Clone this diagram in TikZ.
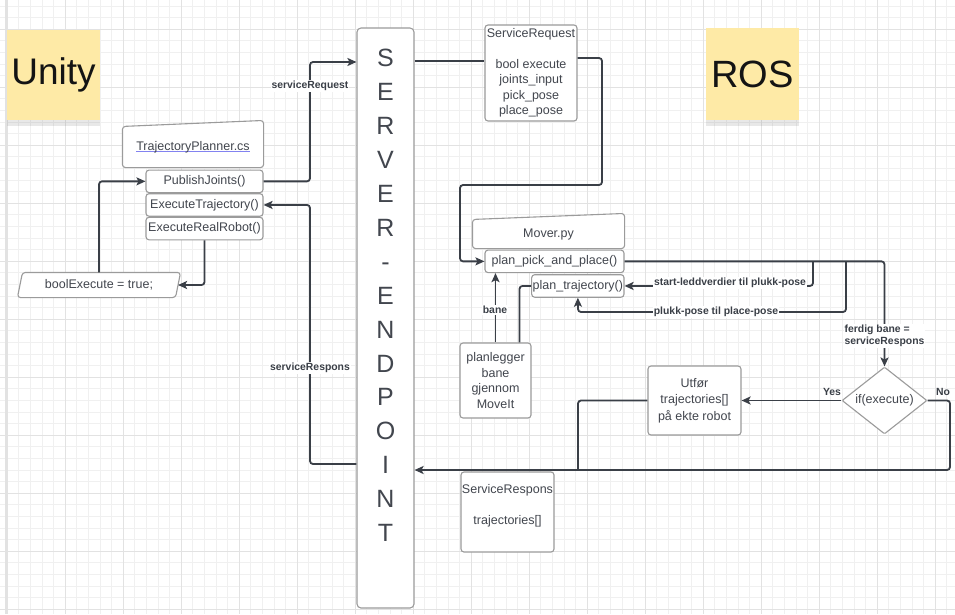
\documentclass[tikz,border=0pt]{standalone}
\usepackage{fontspec}
\setmainfont{Liberation Sans}
\usetikzlibrary{positioning, arrows.meta, shapes.geometric, shadows, backgrounds}
\definecolor{ink}{RGB}{58,63,71}
\definecolor{txtgrey}{RGB}{66,70,78}
\definecolor{boxgrey}{RGB}{155,155,155}
\definecolor{stickyyellow}{RGB}{254,234,166}
\definecolor{gridmin}{RGB}{240,240,240}
\definecolor{gridmaj}{RGB}{226,226,226}
\definecolor{ulblue}{RGB}{130,130,240}
\newcommand{\ulname}[1]{{\setbox0\hbox{#1}\rlap{\color{ulblue}\rule[-1.8pt]{\wd0}{0.9pt}}\box0}}

\begin{document}
\begin{tikzpicture}[x=1pt,y=-1pt,
    box/.style={draw=boxgrey, line width=1.1pt, fill=white, rounded corners=3pt, text=txtgrey,
      inner sep=1pt, align=center, font=\fontsize{12.5}{15.5}\selectfont},
    method/.style={box, minimum height=22.5pt},
    outline/.style={draw=boxgrey, line width=1.1pt, fill=white, rounded corners=3pt},
    sticky/.style={fill=stickyyellow, inner sep=0pt, text=black!92,
      drop shadow={shadow xshift=0pt, shadow yshift=-6pt, opacity=0.18}},
    conn/.style={draw=ink, line width=1.8pt, rounded corners=3pt, -{Stealth[length=9pt,width=8pt,inset=2pt]}},
    wire/.style={draw=ink, line width=1.8pt, rounded corners=3pt},
    lbl/.style={fill=white, text=ink, inner sep=1pt, align=left, font=\bfseries\fontsize{10.4}{12}\selectfont}]
  \useasboundingbox (0,0) rectangle (955,614);
  \clip (0,0) rectangle (955,614);
  \begin{scope}[on background layer]
    \fill[white] (0,0) rectangle (955,614);
    \foreach \gx in {0,...,82} \draw[gridmin] ({7+11.6*\gx},0) -- ++(0,614);
    \foreach \gy in {0,...,52} \draw[gridmin] (0,{5.8+11.6*\gy}) -- ++(955,0);
    \foreach \gx in {0,...,16} \draw[gridmaj] ({7+58*\gx},0) -- ++(0,614);
    \foreach \gy in {0,...,10} \draw[gridmaj] (0,{29+58*\gy}) -- ++(955,0);
    \draw[gridmaj, line width=2pt] (6,0) -- (6,614);
  \end{scope}

  \node[sticky, minimum width=93pt, minimum height=90pt, font=\fontsize{37}{40}\selectfont] (unity) at (53.5,75) {Unity};
  \node[sticky, minimum width=93pt, minimum height=92pt, font=\fontsize{38}{40}\selectfont] (ros) at (752.5,74) {ROS};

  \node[box, draw=none, fill=none, minimum width=140pt, minimum height=40pt] (tp) at (193,147) {\ulname{TrajectoryPlanner.cs}};
  \node[method, minimum width=117pt] (pub) [below left=2pt and 0pt of tp.south east] {PublishJoints()};
  \node[method, minimum width=117pt] (exetr) [below=0pt of pub] {ExecuteTrajectory()};
  \node[method, minimum width=117pt] (exereal) [below=0pt of exetr] {ExecuteRealRobot()};
  \node[box, draw=none, fill=none, minimum width=157pt, minimum height=24pt] (bex) at (99,285) {boolExecute = true;};

  \node[box, minimum width=57pt, minimum height=580pt, rounded corners=4pt] (srv) at (385.5,318) {};
  \node[text=txtgrey, align=center, inner sep=0pt, font=\fontsize{25}{33.9}\selectfont] (srvname) at ([yshift=22.5pt]srv.center)
    {S\\E\\R\\V\\E\\R\\-\\E\\N\\D\\P\\O\\I\\N\\T};

  \node[box, minimum width=92pt, minimum height=96pt] (sreq) at (531,73)
    {ServiceRequest\\[15.5pt]bool execute\\joints\_input\\pick\_pose\\place\_pose};
  \node[box, draw=none, fill=none, minimum width=151pt, minimum height=28pt] (mover) at (548.5,234) {Mover.py};
  \node[method, minimum width=139pt] (ppp) [below left=1pt and 0pt of mover.south east] {plan\_pick\_and\_place()};
  \node[method, minimum width=92pt] (ptraj) [below left=1pt and 0pt of ppp.south east] {plan\_trajectory()};
  \node[box, minimum width=71pt, minimum height=75pt] (plan) at (495.5,380.5) {planlegger\\bane\\gjennom\\MoveIt};
  \node[box, minimum width=93pt, minimum height=69pt, font=\fontsize{12.5}{16.5}\selectfont] (utf) at (694.5,400.5)
    {Utfør\\trajectories[]\\på ekte robot};
  \node[box, diamond, aspect=1.27, inner sep=0pt, rounded corners=1pt, minimum width=85pt, minimum height=67pt] (dia) at (884.5,400.5) {if(execute)};
  \node[box, minimum width=93pt, minimum height=80pt] (sresp) at (507.5,512) {ServiceRespons\\[16pt]trajectories[]\\\mbox{}};

  \begin{scope}[on background layer]
    \path[outline] (tp.south west) -- (tp.north west) -- ([yshift=6pt]tp.north east) -- (tp.south east) -- cycle;
    \path[outline] (mover.south west) -- (mover.north west) -- ([yshift=6pt]mover.north east) -- (mover.south east) -- cycle;
    \path[outline] ([xshift=-2.5pt]bex.south west) -- ([xshift=2.5pt]bex.north west)
      -- ([xshift=2.5pt]bex.north east) -- ([xshift=-2.5pt]bex.south east) -- cycle;
  \end{scope}

  \coordinate (reqturn) at (310,62);
  \coordinate (respturn) at (310,464);
  \coordinate (reqin) at (440,61);
  \coordinate (reqout) at (602,58);
  \coordinate (startsplit) at (813,261);
  \coordinate (plukksplit) at (846,261);
  \coordinate (noturn) at (950,470);
  \coordinate (yesjoin) at (578,470);

  \draw[conn] (pub.east) -| (reqturn) -- (reqturn -| srv.west);
  \draw[conn] (respturn -| srv.west) -- (respturn) |- (exetr.east);
  \draw[conn] (exereal.south) |- (bex.east);
  \draw[conn] (bex.north) |- (pub.west);
  \draw[wire] (reqin -| srv.east) -- (reqin -| sreq.west);
  \draw[conn] (reqout -| sreq.east) -- (reqout) -- (602,185) -- (460,185) |- (ppp.west);
  \draw[conn] (ppp.east) -| (dia.north);
  \draw[conn] (startsplit) |- (ptraj.east);
  \draw[conn] (plukksplit) |- (578,312) -- (ptraj.south);
  \draw[conn] (plan.north) -- (plan.north |- ppp.south);
  \draw[wire] ([xshift=24pt]plan.north) |- (ptraj.west);
  \draw[conn] (dia.west) -- (utf.east);
  \draw[conn] (dia.east) -| (noturn) -- (noturn -| srv.east);
  \draw[wire] (utf.west) -| (yesjoin);

  \node[lbl] (lreq) at (310,86) {serviceRequest};
  \node[lbl] (lresp) at (310,368) {serviceRespons};
  \node[lbl] (lstart) at (730,283) {start-leddverdier til plukk-pose};
  \node[lbl] (lplukk) at (716,312) {plukk-pose til place-pose};
  \node[lbl] (lbane) at (495,310) {bane};
  \node[lbl] (lferdig) at (884.5,336) {ferdig bane =\\serviceRespons};
  \node[lbl, fill=none] (lyes) at (832,392) {Yes};
  \node[lbl, fill=none, anchor=west] (lno) at (935,392) {No};
\end{tikzpicture}
\end{document}
